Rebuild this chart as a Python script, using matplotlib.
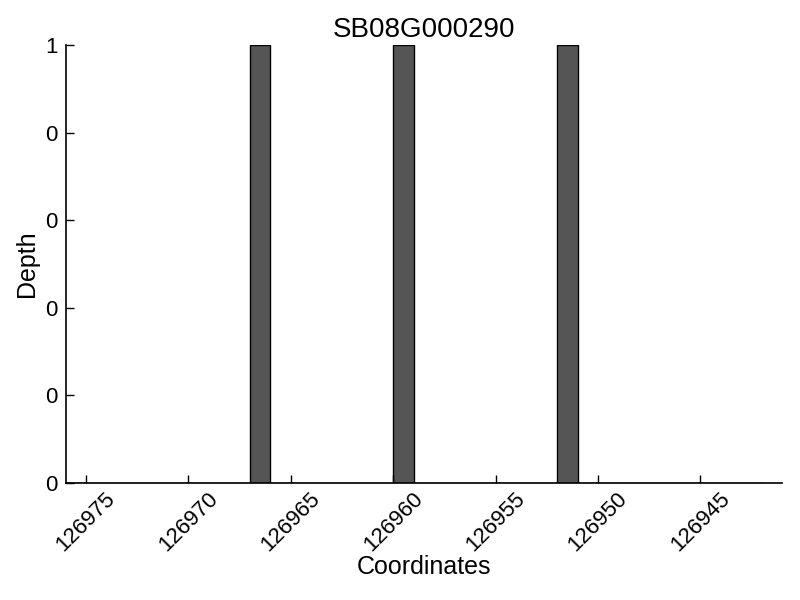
import matplotlib
matplotlib.use("Agg")
import matplotlib.pyplot as plt

title = "SB08G000290"
coordinates = list(range(126942, 126976))
depth_positions = [126951, 126959, 126966]
depth = [1 if c in depth_positions else 0 for c in coordinates]
xticks = [126975, 126970, 126965, 126960, 126955, 126950, 126945]
yticks = [0, 0.2, 0.4, 0.6, 0.8, 1.0]

plt.rcParams['font.family'] = ['Liberation Sans', 'DejaVu Sans']

fig = plt.figure(figsize=(8, 6), dpi=100)
ax = fig.add_axes([0.082, 0.195, 0.896, 0.73])

ax.bar(coordinates, depth, width=1, align='edge', color='#555555',
       edgecolor='black', linewidth=1.0)

ax.set_xlim(126976, 126941)
ax.set_ylim(0, 1)
ax.set_xticks(xticks)
ax.set_xticklabels([str(t) for t in xticks], rotation=45, fontsize=16)
ax.set_yticks(yticks)
ax.set_yticklabels(["%d" % t for t in yticks], fontsize=16)
ax.tick_params(direction='in', length=6, width=1, top=False, right=False)
ax.tick_params(axis='y', pad=6)

for s in ['top', 'right']:
    ax.spines[s].set_visible(False)
for s in ['left', 'bottom']:
    ax.spines[s].set_linewidth(1.2)

ax.set_title(title, fontsize=20, pad=6)
ax.set_xlabel("Coordinates", fontsize=18, labelpad=0)
ax.set_ylabel("Depth", fontsize=18)

fig.savefig("out.png", dpi=100)
